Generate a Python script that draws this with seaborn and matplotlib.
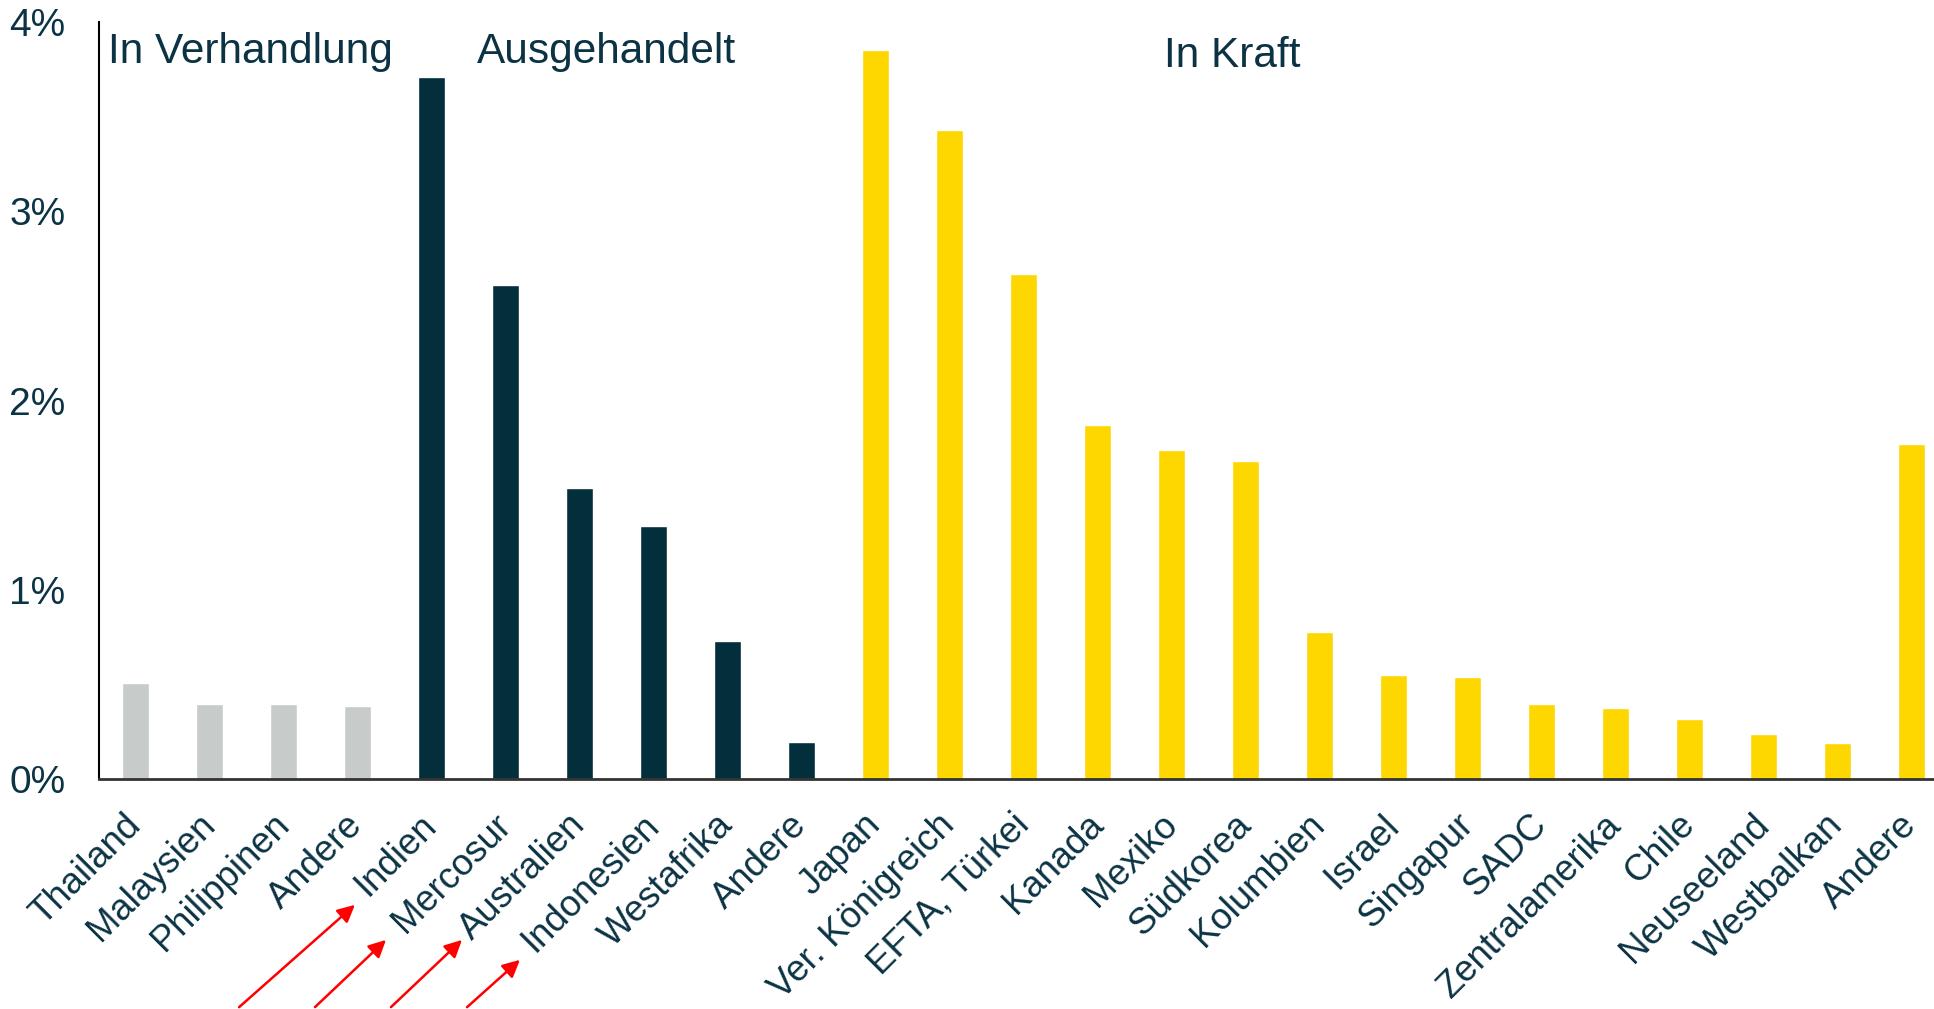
import numpy as np
import pandas as pd
import matplotlib
matplotlib.use("Agg")
import matplotlib.pyplot as plt
import seaborn as sns

# Handelsabkommen: Anteil in %
labels = ["Thailand", "Malaysien", "Philippinen", "Andere",
          "Indien", "Mercosur", "Australien", "Indonesien", "Westafrika", "Andere",
          "Japan", "Ver. Königreich", "EFTA, Türkei", "Kanada", "Mexiko", "Südkorea",
          "Kolumbien", "Israel", "Singapur", "SADC", "Zentralamerika", "Chile",
          "Neuseeland", "Westbalkan", "Andere"]
values = [0.51, 0.40, 0.40, 0.39,
          3.71, 2.61, 1.54, 1.34, 0.73, 0.20,
          3.85, 3.43, 2.67, 1.87, 1.74, 1.68,
          0.78, 0.55, 0.54, 0.40, 0.38, 0.32,
          0.24, 0.19, 1.77]
groups = ["In Verhandlung"] * 4 + ["Ausgehandelt"] * 6 + ["In Kraft"] * 15
group_colors = {"In Verhandlung": "#C7CCCA", "Ausgehandelt": "#032E3C", "In Kraft": "#FFD700"}

txt = "#0B3344"
sns.set_style("white")
plt.rcParams["font.family"] = ["Liberation Sans", "DejaVu Sans"]

df = pd.DataFrame({"pos": range(len(labels)), "wert": values, "gruppe": groups})

fig = plt.figure(figsize=(19.34, 10.09), dpi=100)
ax = fig.add_axes([0.051, 0.2275, 0.949, 0.7506])

sns.barplot(data=df, x="pos", y="wert", hue="gruppe", palette=group_colors,
            dodge=False, width=0.37, legend=False, ax=ax, saturation=1)

ax.set_xlim(-0.5, 24.3)
ax.set_ylim(0, 4)
ax.set_yticks([0, 1, 2, 3, 4])
ax.set_yticklabels([f"{v}%" for v in range(5)], fontsize=28, color=txt)
ax.set_xticks(range(len(labels)))
ax.set_xticklabels(labels, rotation=45, ha="right", va="center",
                   rotation_mode="anchor", fontsize=26.3, color=txt)
ax.set_xticks(np.arange(-0.5, len(labels) - 1, 1), minor=True)
ax.tick_params(axis="x", which="major", length=0, pad=29)
ax.tick_params(axis="x", which="minor", length=12, width=1.5, color="black", direction="out")
ax.tick_params(axis="y", length=6, width=1.5, color="black", direction="out", pad=18)
ax.set_xlabel("")
ax.set_ylabel("")

for s in ["top", "right"]:
    ax.spines[s].set_visible(False)
ax.spines["left"].set_color("black")
ax.spines["left"].set_linewidth(1.5)
ax.spines["bottom"].set_color("#333333")
ax.spines["bottom"].set_linewidth(2)

# Gruppenüberschriften
ax.text(-0.37, 0.96, "In Verhandlung", transform=ax.get_xaxis_transform(),
        fontsize=30.5, color=txt, va="center", ha="left")
ax.text(4.61, 0.96, "Ausgehandelt", transform=ax.get_xaxis_transform(),
        fontsize=30.5, color=txt, va="center", ha="left")
ax.text(13.9, 0.955, "In Kraft", transform=ax.get_xaxis_transform(),
        fontsize=30.5, color=txt, va="center", ha="left")

# rote Pfeile auf die neu ausgehandelten Abkommen
arrows = [((237, 0), (357, 106)), ((313, 0), (388, 71)),
          ((389, 0), (464, 71)), ((465, 0), (522, 51))]
for start, end in arrows:
    fig.add_artist(matplotlib.patches.FancyArrowPatch(
        start, end, transform=None, arrowstyle="-|>", mutation_scale=26,
        color="red", linewidth=1.8))

fig.savefig("out.png", dpi=100)
